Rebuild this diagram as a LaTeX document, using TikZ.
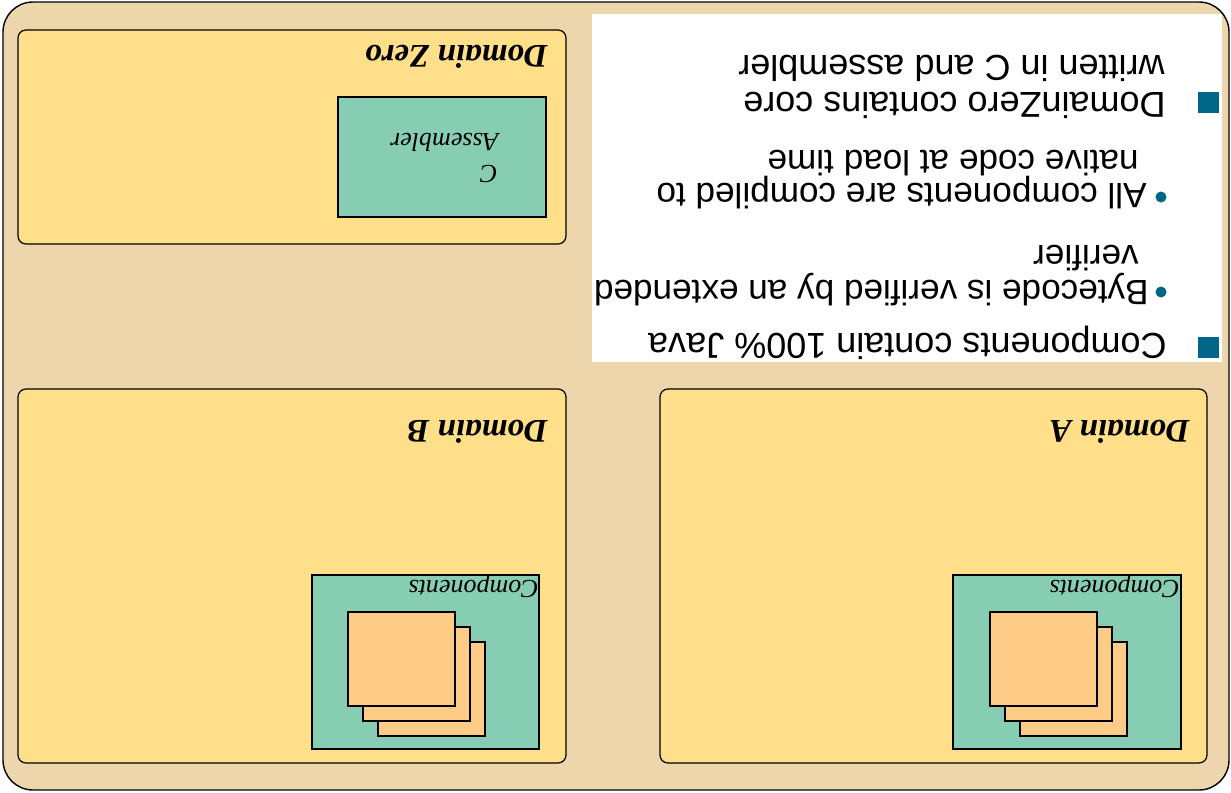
\documentclass[tikz,border=0pt]{standalone}
\usepackage{fontspec}
\setmainfont{Liberation Serif}
\newfontfamily\slidefont{Liberation Sans}
\usetikzlibrary{positioning}
\definecolor{frametan}{RGB}{237,214,171}
\definecolor{domyellow}{RGB}{255,223,138}
\definecolor{compgreen}{RGB}{134,205,180}
\definecolor{cardorange}{RGB}{255,204,136}
\definecolor{bulletblue}{RGB}{0,102,136}

\begin{document}
\begin{tikzpicture}[x=0.02cm,y=-0.02cm]
\tikzstyle{dom}=[draw,fill=domyellow,rounded corners=0.16cm,line width=0.7pt]
\tikzstyle{box}=[draw,line width=0.6pt]
\tikzstyle{flip}=[rotate=180,inner sep=0pt,anchor=base west]
\tikzstyle{dlabel}=[flip,font=\fontsize{18.8}{22}\selectfont\bfseries\itshape]
\tikzstyle{clabel}=[flip,font=\fontsize{14.8}{18}\selectfont\itshape]
\tikzstyle{txt}=[flip,font=\slidefont\fontsize{20.5}{20}\selectfont]
\tikzstyle{subtxt}=[flip,font=\slidefont\fontsize{20}{20}\selectfont]
\tikzstyle{sqbullet}=[rectangle,fill=bulletblue,inner sep=0pt,minimum size=0.42cm]
\tikzstyle{dotbullet}=[circle,fill=bulletblue,inner sep=0pt,minimum size=0.22cm]
\useasboundingbox (0,0) rectangle (1231,792);
% slide frame and text panel
\draw[fill=frametan,rounded corners=0.6cm,line width=0.8pt] (3,2) rectangle (1229,790);
\fill[white] (592,14) rectangle (1222,362);
% domains
\draw[dom] (18,30) rectangle (566,244); \node[dlabel] (zeroLbl) at (548,45) {Domain Zero};
\draw[dom] (18,389) rectangle (566,763); \node[dlabel] (bLbl) at (548,420) {Domain B};
\draw[dom] (660,389) rectangle (1207,763); \node[dlabel] (aLbl) at (1190,420) {Domain A};
% C / assembler part of domain zero
\draw[box,fill=compgreen] (338,97) rectangle (546,217);
\node[clabel] (asmC) at (498,165) {C}; \node[clabel] (asmA) at (499,133) {Assembler};
% components of domain B
\draw[box,fill=compgreen] (312,575) rectangle (539,749);
\node[clabel] (compBLbl) at (539,580) {Components};
\draw[box,fill=cardorange] (378,642) rectangle (485,736);
\draw[box,fill=cardorange] (363,627) rectangle (470,721);
\draw[box,fill=cardorange] (348,612) rectangle (455,706);
% components of domain A
\draw[box,fill=compgreen] (953,575) rectangle (1181,749);
\node[clabel] (compALbl) at (1180,580) {Components};
\draw[box,fill=cardorange] (1020,642) rectangle (1127,736);
\draw[box,fill=cardorange] (1005,627) rectangle (1112,721);
\draw[box,fill=cardorange] (990,612) rectangle (1097,706);
% bullet text
\node[sqbullet] (sq1) at (1208,347) {};
\node[txt] (l1) at (1167,333) {Components contain 100\% Java};
\node[dotbullet] (dot1) at (1161,292) {};
\node[subtxt] (l2) at (1149,280) {Bytecode is verified by an extended};
\node[subtxt] (l3) at (1139,245) {verifier};
\node[dotbullet] (dot2) at (1161,197) {};
\node[subtxt] (l4) at (1147,183) {All components are compiled to};
\node[subtxt] (l5) at (1139,150) {native code at load time};
\node[sqbullet] (sq2) at (1208,102) {};
\node[txt] (l6) at (1166,92) {DomainZero contains core};
\node[txt] (l7) at (1165,55) {written in C and assembler};
\end{tikzpicture}
\end{document}
